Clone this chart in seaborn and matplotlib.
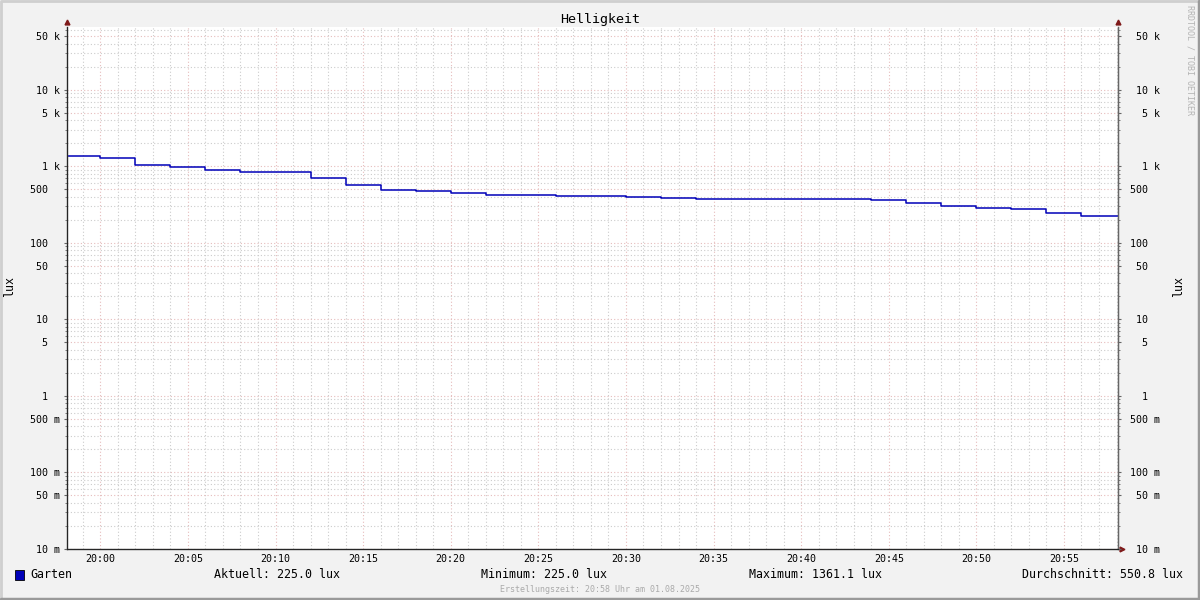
import pandas as pd
import matplotlib
matplotlib.use("Agg")
import matplotlib.pyplot as plt
import matplotlib.dates as mdates
from matplotlib.ticker import FixedLocator, NullFormatter
from matplotlib.patches import Rectangle
from matplotlib.lines import Line2D
import seaborn as sns

# ------------------------------
# Data
# ------------------------------
step_times = ["19:58", "20:00", "20:02", "20:04", "20:06", "20:08", "20:12", "20:14",
              "20:16", "20:18", "20:20", "20:22", "20:26", "20:30", "20:32", "20:34",
              "20:44", "20:46", "20:48", "20:50", "20:52", "20:54", "20:56", "20:59"]
lux_values = [1361.1, 1280, 1037, 977, 892, 840, 701, 568,
              497, 474, 446, 424, 408, 396, 384, 373,
              362, 330, 305, 284, 276, 245, 225.0, 225.0]

y_ticks = [0.01, 0.05, 0.1, 0.5, 1, 5, 10, 50, 100, 500, 1000, 5000, 10000, 50000]
y_tick_labels = ["10 m", "50 m", "100 m", "500 m", "1  ", "5  ", "10  ", "50  ",
                 "100  ", "500  ", "1 k", "5 k", "10 k", "50 k"]
y_minor = [m * 10 ** e for e in range(-2, 5) for m in (2, 3, 4, 6, 7, 8, 9)]

series_name = "Garten"
legend_stats = [("Aktuell: 225.0 lux", 214), ("Minimum: 225.0 lux", 481),
                ("Maximum: 1361.1 lux", 749)]
avg_text = "Durchschnitt: 550.8 lux"
title = "Helligkeit"
unit = "lux"
footer = "Erstellungszeit: 20:58 Uhr am 01.08.2025"
watermark = "RRDTOOL / TOBI OETIKER"

df = pd.DataFrame({
    "time": pd.to_datetime(["2025-08-01 " + t for t in step_times]),
    "lux": lux_values,
})

# ------------------------------
# Style
# ------------------------------
sns.set_style("white")
plt.rcParams["font.family"] = ["DejaVu Sans Mono"]
W, H = 1200, 600
bg = "#F2F2F2"
line_col = "#0000B8"
major_grid = "#E6BCBC"
minor_grid = "#CCCCCC"
arrow_col = "#7F1A1A"
axis_col = "#666666"

fig = plt.figure(figsize=(12, 6), dpi=100, facecolor=bg)
L, R, T, B = 67, 1118, 27, 549
fig.subplots_adjust(left=L / W, right=R / W, top=1 - T / H, bottom=1 - B / H)
ax = fig.add_subplot(111)
ax.set_facecolor("white")

sns.lineplot(data=df, x="time", y="lux", ax=ax, drawstyle="steps-post",
             color=line_col, linewidth=1.1, legend=False)

ax.set_yscale("log")
ax.set_ylim(0.01, 66000)
ax.set_xlim(pd.Timestamp("2025-08-01 19:58:06"), pd.Timestamp("2025-08-01 20:58:05"))

ax.xaxis.set_major_locator(mdates.MinuteLocator(byminute=range(0, 60, 5)))
ax.xaxis.set_major_formatter(mdates.DateFormatter("%H:%M"))
ax.xaxis.set_minor_locator(mdates.MinuteLocator())

ax.yaxis.set_major_locator(FixedLocator(y_ticks))
ax.set_yticklabels(y_tick_labels)
ax.yaxis.set_minor_locator(FixedLocator(y_minor))
ax.yaxis.set_minor_formatter(NullFormatter())

ax.grid(which="major", color=major_grid, linestyle=(0, (1, 2)), linewidth=0.8)
ax.grid(which="minor", color=minor_grid, linestyle=(0, (1, 2)), linewidth=0.8)
ax.set_axisbelow(True)

ax.tick_params(axis="both", which="major", labelsize=7.2, length=2, color=axis_col, labelcolor="black")
ax.tick_params(axis="both", which="minor", length=1.5, color=axis_col)
ax.tick_params(axis="x", which="major", pad=1.5)
ax.tick_params(axis="y", which="major", pad=3)
ax.set_xlabel("")
ax.set_ylabel("")

ax.spines["top"].set_visible(False)
for side in ["left", "bottom", "right"]:
    ax.spines[side].set_color(axis_col)
    ax.spines[side].set_linewidth(1)

# right axis with same labels
ax2 = ax.twinx()
ax2.set_yscale("log")
ax2.set_ylim(ax.get_ylim())
ax2.yaxis.set_major_locator(FixedLocator(y_ticks))
ax2.set_yticklabels(y_tick_labels)
ax2.yaxis.set_minor_locator(FixedLocator(y_minor))
ax2.yaxis.set_minor_formatter(NullFormatter())
ax2.tick_params(axis="y", which="major", labelsize=7.2, length=2, color=axis_col,
                labelcolor="black", pad=28)
ax2.tick_params(axis="y", which="minor", length=1.5, color=axis_col)
plt.setp(ax2.get_yticklabels(), ha="right")
ax2.spines["top"].set_visible(False)
ax2.spines["right"].set_color(axis_col)

# axis arrows
ax.plot([0], [1.01], marker="^", color=arrow_col, markersize=3.5, transform=ax.transAxes, clip_on=False)
ax.plot([1], [1.01], marker="^", color=arrow_col, markersize=3.5, transform=ax.transAxes, clip_on=False)
ax.plot([1.004], [0], marker=">", color=arrow_col, markersize=3.5, transform=ax.transAxes, clip_on=False)

# ------------------------------
# Texts
# ------------------------------
def fx(px):
    return px / W

def fy(py):
    return 1 - py / H

fig.text(fx(600), fy(19), title, ha="center", va="center", fontsize=9.6, color="black")
fig.text(fx(10), fy(287), unit, ha="center", va="center", rotation=90, fontsize=8.4, color="black")
fig.text(fx(1179), fy(287), unit, ha="center", va="center", rotation=90, fontsize=8.4, color="black")
fig.text(fx(1190), fy(5), watermark, ha="center", va="top", rotation=-90, fontsize=6, color="#B4B4B4")

fig.patches.append(Rectangle((fx(15), fy(580)), 9 / W, 10 / H, transform=fig.transFigure,
                             facecolor=line_col, edgecolor="black", linewidth=0.6))
fig.text(fx(30), fy(575), series_name, ha="left", va="center", fontsize=8.4, color="black")
for txt, xpos in legend_stats:
    fig.text(fx(xpos), fy(575), txt, ha="left", va="center", fontsize=8.4, color="black")
fig.text(fx(1183), fy(575), avg_text, ha="right", va="center", fontsize=8.4, color="black")
fig.text(fx(600), fy(589), footer, ha="center", va="center", fontsize=6, color="#AAAAAA")

# frame border: light top/left, dark bottom/right
fig.add_artist(Line2D([0.001, 0.001, 0.999], [0.001, 0.999, 0.999], transform=fig.transFigure,
                      color="#CFCFCF", linewidth=2))
fig.add_artist(Line2D([0.001, 0.999, 0.999], [0.002, 0.002, 0.999], transform=fig.transFigure,
                      color="#9A9A9A", linewidth=2.5))

fig.savefig("out.png", dpi=100, facecolor=bg)
